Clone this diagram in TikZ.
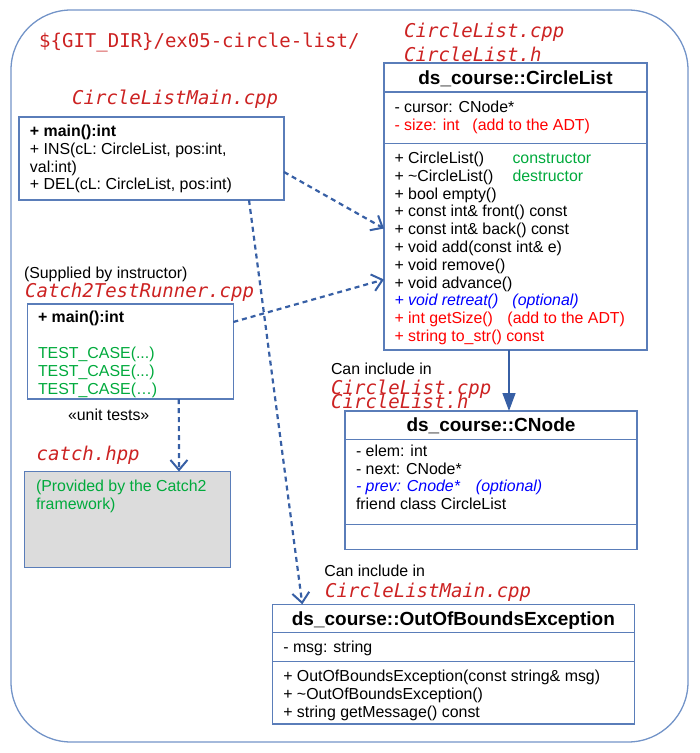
\documentclass[tikz,border=0pt]{standalone}
\usepackage{fontspec}
\setmainfont{Liberation Sans}
\newfontfamily\dmono{DejaVu Sans Mono}
\usetikzlibrary{arrows.meta}
\definecolor{boxline}{RGB}{90,125,185}
\definecolor{arrowc}{RGB}{55,95,165}
\definecolor{outerc}{RGB}{115,148,200}
\definecolor{fred}{RGB}{204,34,34}
\definecolor{tred}{RGB}{255,0,0}
\definecolor{tgreen}{RGB}{0,170,60}
\definecolor{tblue}{RGB}{0,0,255}
\definecolor{grayfill}{RGB}{220,220,220}
\tikzset{
  umlbox/.style={draw=boxline, line width=1.2pt, anchor=north west, inner sep=0pt, outer sep=0pt},
  sepline/.style={draw=boxline, line width=1.2pt},
  txt/.style={anchor=base west, inner sep=0pt, outer sep=0pt, align=left, font=\fontsize{15.9}{17.8}\selectfont},
  hdr/.style={anchor=base, inner sep=0pt, font=\bfseries\fontsize{19}{22}\selectfont},
  fname/.style={anchor=base west, inner sep=0pt, text=fred, font=\dmono\itshape\fontsize{19}{22}\selectfont},
  dep/.style={draw=arrowc, line width=2.2pt, dash pattern=on 5pt off 4pt, -{Straight Barb[length=10pt,width=17pt,line width=2pt]}},
  assoc/.style={draw=arrowc, line width=1.4pt, -{Triangle[length=18pt,width=13pt]}},
}
\begin{document}
\begin{tikzpicture}[x=1pt,y=-1pt]
\useasboundingbox (0,0) rectangle (700,753);
% outer frame
\draw[outerc, line width=1.3pt, rounded corners=60pt] (11,10) rectangle (688,742);
\node[anchor=base west, inner sep=0pt, text=fred, font=\dmono\fontsize{19}{22}\selectfont] (gitdir) at (39,47.3) {\$\{GIT\_DIR\}/ex05-circle-list/};

% CircleList (multi-line nodes: base = last line's baseline)
\node[fname] (clcpp) at (404,37.3) {CircleList.cpp};
\node[fname] (clh) at (404,61) {CircleList.h};
\node[umlbox, minimum width=263pt, minimum height=287pt] (cl) at (384,63) {};
\draw[sepline] (384,92) -- (647,92);
\draw[sepline] (384,143.5) -- (647,143.5);
\node[hdr] (clhdr) at (515.5,84.8) {ds\_course::CircleList};
\node[txt] (clattr) at (394.5,130.3) {- cursor: CNode*\\{\color{tred}\makebox[78pt][l]{- size: int}(add to the ADT)}};
\node[txt] (clmeth) at (394.5,341.5) {\makebox[118pt][l]{+ CircleList()}\textcolor{tgreen}{constructor}\\
\makebox[118pt][l]{+ \textasciitilde CircleList()}\textcolor{tgreen}{destructor}\\
+ bool empty()\\
+ const int\& front() const\\
+ const int\& back() const\\
+ void add(const int\& e)\\
+ void remove()\\
+ void advance()\\
{\color{tblue}\itshape\makebox[118pt][l]{+ void retreat()}(optional)}\\
{\color{tred}\makebox[113pt][l]{+ int getSize()}(add to the ADT)}\\
{\color{tred}+ string to\_str() const}};

% main
\node[fname] (mainfile) at (72,104) {CircleListMain.cpp};
\node[umlbox, minimum width=265pt, minimum height=83pt] (main) at (19,117) {};
\node[txt] (maintxt) at (30,189.9) {\textbf{+ main():int}\\+ INS(cL: CircleList, pos:int,\\val:int)\\+ DEL(cL: CircleList, pos:int)};

% Catch2 test runner
\node[txt] (supplied) at (24,278.5) {(Supplied by instructor)};
\node[fname] (runnerfile) at (25,297) {Catch2TestRunner.cpp};
\node[umlbox, minimum width=206pt, minimum height=95pt] (runner) at (27.3,304) {};
\node[txt] (runnertxt) at (38,394) {\textbf{+ main():int}\\[17.8pt]
\textcolor{tgreen}{TEST\_CASE(...)}\\
\textcolor{tgreen}{TEST\_CASE(...)}\\
\textcolor{tgreen}{TEST\_CASE(…)}};
\node[txt] (unit) at (68,420.7) {«unit tests»};

% catch.hpp
\node[fname] (catchfile) at (36.5,460.7) {catch.hpp};
\node[umlbox, fill=grayfill, minimum width=206pt, minimum height=96pt] (catch) at (24.3,471.5) {};
\node[txt, text=tgreen] (catchtxt) at (36,509.3) {(Provided by the Catch2\\framework)};

% CNode
\node[txt] (inc1) at (331,374) {Can include in};
\node[fname] (inc1a) at (331,394.3) {CircleList.cpp};
\node[fname] (inc1b) at (331,408.7) {CircleList.h};
\node[umlbox, minimum width=292pt, minimum height=138.5pt] (cnode) at (345,411) {};
\draw[sepline] (345,439.3) -- (637,439.3);
\draw[sepline] (345,524.3) -- (637,524.3);
\node[hdr] (cnhdr) at (491,431.5) {ds\_course::CNode};
\node[txt] (cnattr) at (356,509.6) {- elem: int\\- next: CNode*\\{\color{tblue}\itshape\makebox[120pt][l]{- prev: Cnode*}(optional)}\\friend class CircleList};

% OutOfBoundsException
\node[txt] (inc2) at (324.3,576.7) {Can include in};
\node[fname] (inc2a) at (325,597) {CircleListMain.cpp};
\node[umlbox, minimum width=362pt, minimum height=119.7pt] (oob) at (272.3,604.3) {};
\draw[sepline] (272.3,632.7) -- (634.6,632.7);
\draw[sepline] (272.3,661.7) -- (634.6,661.7);
\node[hdr] (oobhdr) at (453.4,625.5) {ds\_course::OutOfBoundsException};
\node[txt] (oobattr) at (283.3,652) {- msg: string};
\node[txt] (oobmeth) at (283.3,717.1) {+ OutOfBoundsException(const string\& msg)\\+ \textasciitilde OutOfBoundsException()\\+ string getMessage() const};

% connectors
\draw[dep] ([yshift=-13.5pt]main.east) -- ([yshift=-22pt]cl.west);
\draw[dep] ([yshift=29.5pt]runner.east) -- ([yshift=-73pt]cl.west);
\draw[dep] ([xshift=97.5pt]main.south) -- ([xshift=-151pt]oob.north);
\draw[dep] ([xshift=48.5pt]runner.south) -- ([xshift=51.7pt]catch.north);
\draw[assoc] ([xshift=-6.5pt]cl.south) -- ([xshift=-6.5pt]cl.south |- cnode.north);
\end{tikzpicture}
\end{document}
